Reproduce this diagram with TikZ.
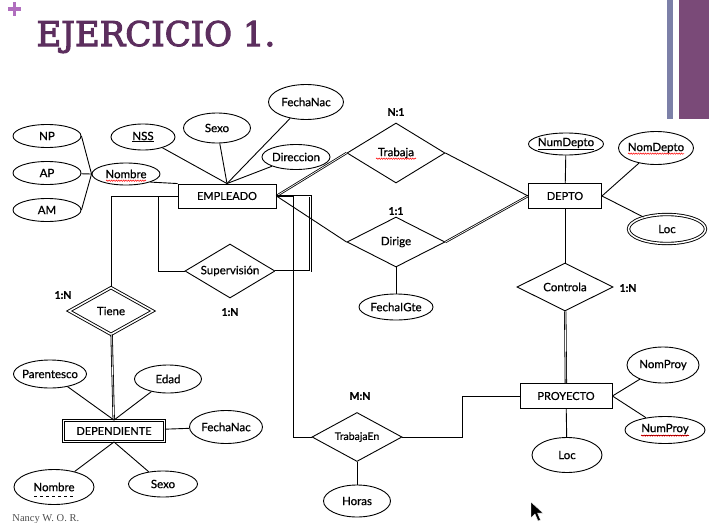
\documentclass[tikz,border=0pt]{standalone}
\usepackage{fontspec}
\setmainfont{Lato}[FakeBold=0.7]
\newfontfamily\titlefont{DejaVu Serif}[FakeBold=3]
\newfontfamily\footfont{Liberation Serif}
\usetikzlibrary{shapes.geometric,decorations.pathmorphing}
\definecolor{titlepurple}{RGB}{92,46,94}
\definecolor{plumbar}{RGB}{122,74,120}
\definecolor{slatebar}{RGB}{124,128,168}
\definecolor{pluscol}{RGB}{176,110,190}
\begin{document}
\begin{tikzpicture}[x=1pt,y=-1pt,line width=0.9pt,
  ent/.style={draw,rectangle,inner sep=0pt,font=\fontsize{11}{12}\selectfont},
  weakent/.style={ent,double,double distance=1.5pt},
  attr/.style={draw,ellipse,inner xsep=-4pt,inner ysep=0pt,font=\fontsize{11.5}{12}\selectfont},
  rel/.style={draw,diamond,aspect=1.8,inner sep=1pt,font=\fontsize{11.5}{12}\selectfont},
  card/.style={font=\bfseries\fontsize{10.5}{12}\selectfont},
  dbl/.style={double,double distance=0.7pt,line width=0.8pt},
  spell/.style={red,line width=0.5pt,decorate,decoration={snake,amplitude=0.7pt,segment length=2.4pt}}]
\useasboundingbox (0,0) rectangle (712,522);

\fill[slatebar] (667,0) rectangle (673,119);
\fill[plumbar] (679,0) rectangle (709,119);
\fill[pluscol] (8,7) rectangle (21,10.5);
\fill[pluscol] (12.8,1.5) rectangle (16.3,15.5);
\node[anchor=base west, text=titlepurple, font=\titlefont\fontsize{34}{36}\selectfont, inner sep=0pt] (titulo) at (36,46) {EJERCICIO 1.};
\node[anchor=base west, text=black!70, font=\footfont\fontsize{10.5}{12}\selectfont, inner sep=0pt] (autor) at (12,521) {Nancy W. O. R.};

\node[ent, minimum width=98pt, minimum height=24pt] (emp) at (227,196) {EMPLEADO};
\node[ent, minimum width=73pt, minimum height=25pt] (depto) at (565,196) {DEPTO};
\node[ent, minimum width=92pt, minimum height=25pt] (proy) at (566,396) {PROYECTO};
\node[weakent, minimum width=101pt, minimum height=21pt] (dep) at (114,431) {DEPENDIENTE};

\node[attr, minimum width=68pt, minimum height=23pt] (np) at (47,136) {NP};
\node[attr, minimum width=68pt, minimum height=23pt] (ap) at (47,173) {AP};
\node[attr, minimum width=68pt, minimum height=23pt] (am) at (47,210) {AM};
\node[attr, minimum width=68pt, minimum height=22pt] (nombre) at (126,174) {Nombre};
\node[attr, minimum width=64pt, minimum height=26pt] (nss) at (143,137) {\underline{NSS}};
\node[attr, minimum width=67pt, minimum height=30pt] (sexo) at (217,128) {Sexo};
\node[attr, minimum width=75pt, minimum height=35pt] (fechanac) at (306,102) {FechaNac};
\node[attr, minimum width=68pt, minimum height=25pt] (direccion) at (296,157) {Direccion};
\node[attr, minimum width=75pt, minimum height=22pt] (numdepto) at (566,144) {\underline{NumDepto}};
\node[attr, minimum width=75pt, minimum height=33pt] (nomdepto) at (656,148) {NomDepto};
\node[attr, double, double distance=1.5pt, minimum width=77pt, minimum height=29pt] (locdepto) at (667,229) {Loc};
\node[attr, minimum width=74pt, minimum height=26pt] (fechaigte) at (396,307) {FechaIGte};
\node[attr, minimum width=72pt, minimum height=36pt] (nomproy) at (663,365) {NomProy};
\node[attr, minimum width=80pt, minimum height=27pt] (numproy) at (665,430) {\underline{NumProy}};
\node[attr, minimum width=70pt, minimum height=35pt] (locproy) at (567,455) {Loc};
\node[attr, minimum width=67pt, minimum height=32pt] (horas) at (357,501) {Horas};
\node[attr, minimum width=73pt, minimum height=28pt] (parentesco) at (50,374) {Parentesco};
\node[attr, minimum width=67pt, minimum height=28pt] (edad) at (168,379) {Edad};
\node[attr, minimum width=73pt, minimum height=33pt] (fechanacdep) at (226,427) {FechaNac};
\node[attr, minimum width=80pt, minimum height=35pt] (nombredep) at (54,487) {Nombre};
\node[attr, minimum width=69pt, minimum height=26pt] (sexodep) at (163,484) {Sexo};

\node[rel, minimum width=98pt, minimum height=60pt] (trabaja) at (396,153) {Trabaja};
\node[rel, minimum width=98pt, minimum height=50pt] (dirige) at (396,242) {Dirige};
\node[rel, minimum width=90pt, minimum height=54pt] (superv) at (230,271) {Supervisión};
\node[rel, double, double distance=1.5pt, minimum width=84pt, minimum height=47pt] (tiene) at (111,311) {Tiene};
\node[rel, minimum width=96pt, minimum height=48pt] (controla) at (565,287) {Controla};
\node[rel, minimum width=90pt, minimum height=49pt, font=\fontsize{10.5}{11}\selectfont] (trabajaen) at (357,437) {TrabajaEn};

\node[card] (cardtrabaja) at (396,112) {N:1};
\node[card] (carddirige) at (396,211) {1:1};
\node[card] (cardtiene) at (63,295) {1:N};
\node[card] (cardsuperv) at (230,312) {1:N};
\node[card] (cardcontrola) at (628,288) {1:N};
\node[card] (cardtrabajaen) at (360,396) {M:N};

\draw[dbl] (emp.east) -- (trabaja.west);
\draw[dbl] (dirige.east) -- (depto.west);
\draw[dbl] (controla) -- (proy);
\draw[dbl] (tiene) -- (dep);
\draw[dbl] (superv.east) -- ++(35,0) |- (emp.east);
\draw (np.east) -- (nombre.west);
\draw (ap) -- (nombre.west);
\draw (am.east) -- (nombre.west);
\draw (nombre.south east) -- (emp.north west);
\draw (nss) -- (emp.north);
\draw (sexo) -- (emp.north);
\draw (fechanac) -- (emp.north);
\draw (direccion) -- (emp.north);
\draw (trabaja.east) -- (depto.west);
\draw (emp.east) -- (dirige.west);
\draw (dirige) -- (fechaigte);
\draw (numdepto) -- (depto);
\draw (nomdepto) -- (depto.east);
\draw (locdepto) -- (depto.east);
\draw (depto) -- (controla);
\draw (proy.east) -- (nomproy);
\draw (proy.east) -- (numproy);
\draw (proy) -- (locproy);
\draw (trabajaen.east) -- ++(60,0) |- (proy.west);
\draw (emp.east) -- ++(17,0) |- (trabajaen.west);
\draw (trabajaen) -- (horas);
\draw (emp.west) -- ++(-19,0) |- (superv.west);
\draw (emp.west) -| (tiene.north);
\draw (parentesco) -- (dep.north);
\draw (edad) -- (dep.north);
\draw (dep) -- (fechanacdep);
\draw (dep.south) -- (nombredep);
\draw (dep.south) -- (sexodep);

\draw[dashed, line width=0.8pt] ([xshift=-20pt,yshift=-5pt]nombredep.base) -- ([xshift=20pt,yshift=-5pt]nombredep.base);
\draw[spell] ([xshift=-20pt,yshift=-2.5pt]nombre.base) -- ([xshift=20pt,yshift=-2.5pt]nombre.base);
\draw[spell] ([xshift=-20pt,yshift=-2.5pt]trabaja.base) -- ([xshift=20pt,yshift=-2.5pt]trabaja.base);
\draw[spell] ([xshift=-28pt,yshift=-2.5pt]nomdepto.base) -- ([xshift=28pt,yshift=-2.5pt]nomdepto.base);
\draw[spell] ([xshift=-24pt,yshift=-3.5pt]numproy.base) -- ([xshift=24pt,yshift=-3.5pt]numproy.base);

\fill[draw=white, line width=0.4pt] (531,502) -- (531,518) -- (535,514) -- (538,521) -- (540.5,520) -- (537.5,513) -- (543,513) -- cycle;
\end{tikzpicture}
\end{document}
